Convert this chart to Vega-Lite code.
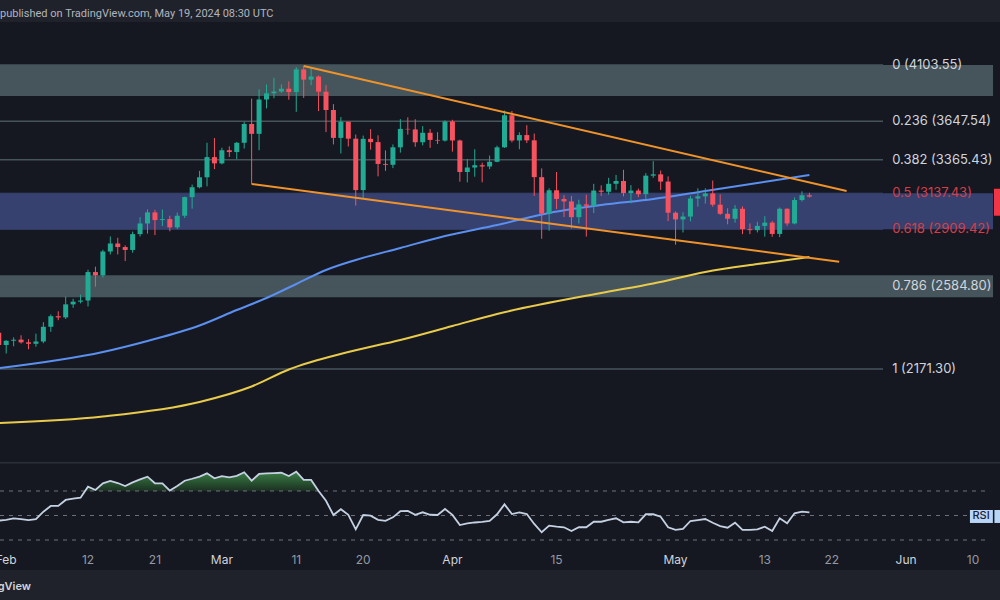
{
  "$schema": "https://vega.github.io/schema/vega-lite/v6.json",
  "padding": {"top": 8, "left": 0, "right": 0, "bottom": 0},
  "background": "#1f222b",
  "spacing": 0,
  "config": {"view": {"stroke": null}, "font": "Inter"},
  "title": {"text": "published on TradingView.com, May 19, 2024 08:30 UTC", "anchor": "start", "font": "Roboto", "fontSize": 11, "fontWeight": 400, "color": "#b2b5be", "offset": 3},
  "datasets": {
    "candles": [
      {"d":"2024-01-31","o":2343,"h":2393,"l":2267,"c":2283,"rsi":45.8},
      {"d":"2024-02-01","o":2283,"h":2306,"l":2243,"c":2304,"rsi":46.5},
      {"d":"2024-02-02","o":2304,"h":2320,"l":2277,"c":2309,"rsi":47.7},
      {"d":"2024-02-03","o":2309,"h":2330,"l":2290,"c":2296,"rsi":47.0},
      {"d":"2024-02-04","o":2296,"h":2311,"l":2263,"c":2289,"rsi":46.3},
      {"d":"2024-02-05","o":2289,"h":2338,"l":2275,"c":2300,"rsi":47.0},
      {"d":"2024-02-06","o":2300,"h":2395,"l":2292,"c":2372,"rsi":53.1},
      {"d":"2024-02-07","o":2372,"h":2434,"l":2347,"c":2425,"rsi":57.8},
      {"d":"2024-02-08","o":2425,"h":2450,"l":2405,"c":2419,"rsi":57.8},
      {"d":"2024-02-09","o":2419,"h":2527,"l":2411,"c":2486,"rsi":62.7},
      {"d":"2024-02-10","o":2486,"h":2515,"l":2468,"c":2500,"rsi":63.8},
      {"d":"2024-02-11","o":2500,"h":2537,"l":2491,"c":2506,"rsi":64.5},
      {"d":"2024-02-12","o":2506,"h":2673,"l":2475,"c":2660,"rsi":73.5},
      {"d":"2024-02-13","o":2660,"h":2690,"l":2580,"c":2642,"rsi":70.8},
      {"d":"2024-02-14","o":2642,"h":2787,"l":2630,"c":2777,"rsi":76.3},
      {"d":"2024-02-15","o":2777,"h":2866,"l":2760,"c":2824,"rsi":78.2},
      {"d":"2024-02-16","o":2824,"h":2858,"l":2760,"c":2803,"rsi":76.5},
      {"d":"2024-02-17","o":2803,"h":2813,"l":2722,"c":2786,"rsi":74.1},
      {"d":"2024-02-18","o":2786,"h":2895,"l":2770,"c":2880,"rsi":77.0},
      {"d":"2024-02-19","o":2880,"h":2984,"l":2866,"c":2945,"rsi":79.5},
      {"d":"2024-02-20","o":2945,"h":3033,"l":2883,"c":3014,"rsi":81.7},
      {"d":"2024-02-21","o":3014,"h":3030,"l":2874,"c":2966,"rsi":76.3},
      {"d":"2024-02-22","o":2966,"h":3032,"l":2929,"c":2972,"rsi":76.3},
      {"d":"2024-02-23","o":2972,"h":2993,"l":2897,"c":2921,"rsi":70.3},
      {"d":"2024-02-24","o":2921,"h":3013,"l":2910,"c":2993,"rsi":74.0},
      {"d":"2024-02-25","o":2993,"h":3115,"l":2979,"c":3112,"rsi":78.4},
      {"d":"2024-02-26","o":3112,"h":3195,"l":3038,"c":3177,"rsi":80.0},
      {"d":"2024-02-27","o":3177,"h":3288,"l":3170,"c":3244,"rsi":81.8},
      {"d":"2024-02-28","o":3244,"h":3487,"l":3183,"c":3384,"rsi":84.4},
      {"d":"2024-02-29","o":3384,"h":3522,"l":3300,"c":3340,"rsi":80.4},
      {"d":"2024-03-01","o":3340,"h":3451,"l":3333,"c":3433,"rsi":82.2},
      {"d":"2024-03-02","o":3433,"h":3461,"l":3385,"c":3420,"rsi":81.2},
      {"d":"2024-03-03","o":3420,"h":3493,"l":3369,"c":3487,"rsi":82.4},
      {"d":"2024-03-04","o":3487,"h":3644,"l":3445,"c":3627,"rsi":85.3},
      {"d":"2024-03-05","o":3627,"h":3825,"l":3200,"c":3553,"rsi":78.4},
      {"d":"2024-03-06","o":3553,"h":3900,"l":3433,"c":3818,"rsi":83.9},
      {"d":"2024-03-07","o":3818,"h":3940,"l":3747,"c":3868,"rsi":84.4},
      {"d":"2024-03-08","o":3868,"h":3995,"l":3828,"c":3882,"rsi":84.6},
      {"d":"2024-03-09","o":3882,"h":3941,"l":3872,"c":3905,"rsi":84.9},
      {"d":"2024-03-10","o":3905,"h":3965,"l":3816,"c":3878,"rsi":82.2},
      {"d":"2024-03-11","o":3878,"h":4086,"l":3721,"c":4066,"rsi":85.8},
      {"d":"2024-03-12","o":4066,"h":4093,"l":3831,"c":3980,"rsi":79.0},
      {"d":"2024-03-13","o":3980,"h":4083,"l":3934,"c":4006,"rsi":79.0},
      {"d":"2024-03-14","o":4006,"h":4015,"l":3726,"c":3881,"rsi":70.0},
      {"d":"2024-03-15","o":3881,"h":3935,"l":3566,"c":3735,"rsi":62.0},
      {"d":"2024-03-16","o":3735,"h":3781,"l":3475,"c":3523,"rsi":50.4},
      {"d":"2024-03-17","o":3523,"h":3680,"l":3410,"c":3644,"rsi":55.1},
      {"d":"2024-03-18","o":3644,"h":3645,"l":3460,"c":3517,"rsi":50.5},
      {"d":"2024-03-19","o":3517,"h":3548,"l":3057,"c":3158,"rsi":38.7},
      {"d":"2024-03-20","o":3158,"h":3540,"l":3100,"c":3516,"rsi":50.4},
      {"d":"2024-03-21","o":3516,"h":3588,"l":3437,"c":3492,"rsi":49.9},
      {"d":"2024-03-22","o":3492,"h":3542,"l":3250,"c":3336,"rsi":46.5},
      {"d":"2024-03-23","o":3336,"h":3432,"l":3288,"c":3330,"rsi":45.6},
      {"d":"2024-03-24","o":3330,"h":3475,"l":3307,"c":3454,"rsi":48.5},
      {"d":"2024-03-25","o":3454,"h":3664,"l":3416,"c":3590,"rsi":53.5},
      {"d":"2024-03-26","o":3590,"h":3678,"l":3547,"c":3586,"rsi":53.7},
      {"d":"2024-03-27","o":3586,"h":3663,"l":3458,"c":3491,"rsi":50.5},
      {"d":"2024-03-28","o":3491,"h":3611,"l":3468,"c":3561,"rsi":52.6},
      {"d":"2024-03-29","o":3561,"h":3589,"l":3450,"c":3508,"rsi":50.6},
      {"d":"2024-03-30","o":3508,"h":3565,"l":3478,"c":3503,"rsi":50.4},
      {"d":"2024-03-31","o":3503,"h":3655,"l":3496,"c":3646,"rsi":55.3},
      {"d":"2024-04-01","o":3646,"h":3659,"l":3423,"c":3504,"rsi":50.5},
      {"d":"2024-04-02","o":3504,"h":3510,"l":3214,"c":3280,"rsi":42.2},
      {"d":"2024-04-03","o":3280,"h":3370,"l":3210,"c":3311,"rsi":43.5},
      {"d":"2024-04-04","o":3311,"h":3440,"l":3248,"c":3327,"rsi":44.3},
      {"d":"2024-04-05","o":3327,"h":3345,"l":3210,"c":3318,"rsi":44.8},
      {"d":"2024-04-06","o":3318,"h":3395,"l":3300,"c":3351,"rsi":45.5},
      {"d":"2024-04-07","o":3351,"h":3466,"l":3348,"c":3454,"rsi":51.0},
      {"d":"2024-04-08","o":3454,"h":3730,"l":3450,"c":3694,"rsi":59.1},
      {"d":"2024-04-09","o":3694,"h":3727,"l":3490,"c":3504,"rsi":51.2},
      {"d":"2024-04-10","o":3504,"h":3565,"l":3440,"c":3544,"rsi":52.6},
      {"d":"2024-04-11","o":3544,"h":3618,"l":3485,"c":3505,"rsi":51.2},
      {"d":"2024-04-12","o":3505,"h":3555,"l":3120,"c":3245,"rsi":43.1},
      {"d":"2024-04-13","o":3245,"h":3305,"l":2852,"c":3006,"rsi":36.3},
      {"d":"2024-04-14","o":3006,"h":3170,"l":2900,"c":3157,"rsi":41.7},
      {"d":"2024-04-15","o":3157,"h":3280,"l":3035,"c":3100,"rsi":40.9},
      {"d":"2024-04-16","o":3100,"h":3125,"l":2985,"c":3084,"rsi":40.4},
      {"d":"2024-04-17","o":3084,"h":3120,"l":2915,"c":2984,"rsi":37.3},
      {"d":"2024-04-18","o":2984,"h":3095,"l":2945,"c":3065,"rsi":40.4},
      {"d":"2024-04-19","o":3065,"h":3128,"l":2865,"c":3056,"rsi":40.4},
      {"d":"2024-04-20","o":3056,"h":3200,"l":3010,"c":3155,"rsi":44.9},
      {"d":"2024-04-21","o":3155,"h":3190,"l":3120,"c":3147,"rsi":44.9},
      {"d":"2024-04-22","o":3147,"h":3240,"l":3128,"c":3200,"rsi":46.5},
      {"d":"2024-04-23","o":3200,"h":3260,"l":3160,"c":3219,"rsi":47.7},
      {"d":"2024-04-24","o":3219,"h":3295,"l":3117,"c":3138,"rsi":44.4},
      {"d":"2024-04-25","o":3138,"h":3191,"l":3072,"c":3155,"rsi":44.9},
      {"d":"2024-04-26","o":3155,"h":3168,"l":3112,"c":3131,"rsi":44.4},
      {"d":"2024-04-27","o":3131,"h":3272,"l":3100,"c":3255,"rsi":51.0},
      {"d":"2024-04-28","o":3255,"h":3355,"l":3240,"c":3264,"rsi":51.0},
      {"d":"2024-04-29","o":3264,"h":3290,"l":3160,"c":3215,"rsi":49.0},
      {"d":"2024-04-30","o":3215,"h":3250,"l":2960,"c":3012,"rsi":40.4},
      {"d":"2024-05-01","o":3012,"h":3020,"l":2817,"c":2970,"rsi":38.2},
      {"d":"2024-05-02","o":2970,"h":3015,"l":2890,"c":2988,"rsi":39.0},
      {"d":"2024-05-03","o":2988,"h":3120,"l":2958,"c":3103,"rsi":45.5},
      {"d":"2024-05-04","o":3103,"h":3170,"l":3050,"c":3117,"rsi":46.3},
      {"d":"2024-05-05","o":3117,"h":3170,"l":3070,"c":3136,"rsi":47.1},
      {"d":"2024-05-06","o":3136,"h":3222,"l":3050,"c":3063,"rsi":44.1},
      {"d":"2024-05-07","o":3063,"h":3130,"l":2998,"c":3005,"rsi":41.4},
      {"d":"2024-05-08","o":3005,"h":3040,"l":2940,"c":2974,"rsi":40.0},
      {"d":"2024-05-09","o":2974,"h":3060,"l":2950,"c":3037,"rsi":44.1},
      {"d":"2024-05-10","o":3037,"h":3052,"l":2880,"c":2910,"rsi":38.2},
      {"d":"2024-05-11","o":2910,"h":2945,"l":2880,"c":2904,"rsi":38.2},
      {"d":"2024-05-12","o":2904,"h":2955,"l":2890,"c":2930,"rsi":38.7},
      {"d":"2024-05-13","o":2930,"h":2990,"l":2865,"c":2950,"rsi":40.9},
      {"d":"2024-05-14","o":2950,"h":2960,"l":2864,"c":2881,"rsi":37.3},
      {"d":"2024-05-15","o":2881,"h":3045,"l":2862,"c":3037,"rsi":47.7},
      {"d":"2024-05-16","o":3037,"h":3040,"l":2930,"c":2945,"rsi":43.6},
      {"d":"2024-05-17","o":2945,"h":3110,"l":2940,"c":3093,"rsi":51.8},
      {"d":"2024-05-18","o":3093,"h":3150,"l":3083,"c":3124,"rsi":53.1},
      {"d":"2024-05-19","o":3124,"h":3140,"l":3110,"c":3115,"rsi":52.6}
    ],
    "ma100": [
      {"d":"2024-01-31","v":2174.9},{"d":"2024-02-14","v":2249.9},{"d":"2024-02-20","v":2302.4},
      {"d":"2024-02-27","v":2378.3},{"d":"2024-03-03","v":2456.8},{"d":"2024-03-07","v":2519.3},
      {"d":"2024-03-11","v":2594.3},{"d":"2024-03-15","v":2671.5},{"d":"2024-03-19","v":2728.0},
      {"d":"2024-03-25","v":2797.4},{"d":"2024-03-31","v":2868.6},{"d":"2024-04-07","v":2935.5},
      {"d":"2024-04-14","v":3010.2},{"d":"2024-04-21","v":3061.0},{"d":"2024-04-28","v":3099.7},
      {"d":"2024-05-05","v":3152.1},{"d":"2024-05-12","v":3205.3},{"d":"2024-05-19","v":3259.5}
    ],
    "ma200": [
      {"d":"2024-01-31","v":1939.1},{"d":"2024-02-14","v":1965.6},{"d":"2024-02-27","v":2026.3},
      {"d":"2024-03-05","v":2093.1},{"d":"2024-03-10","v":2168.9},{"d":"2024-03-18","v":2249.9},
      {"d":"2024-03-25","v":2307.2},{"d":"2024-04-01","v":2375.8},{"d":"2024-04-07","v":2436.3},
      {"d":"2024-04-21","v":2545.8},{"d":"2024-04-28","v":2597.0},{"d":"2024-05-05","v":2660.3},
      {"d":"2024-05-12","v":2705.2},{"d":"2024-05-19","v":2745.2}
    ],
    "fib": [
      {"p":4103.55,"label":"0 (4103.55)","grp":"w"},
      {"p":3647.54,"label":"0.236 (3647.54)","grp":"w"},
      {"p":3365.43,"label":"0.382 (3365.43)","grp":"w"},
      {"p":3137.43,"label":"0.5 (3137.43)","grp":"r"},
      {"p":2909.42,"label":"0.618 (2909.42)","grp":"r"},
      {"p":2584.80,"label":"0.786 (2584.80)","grp":"w"},
      {"p":2171.30,"label":"1 (2171.30)","grp":"w"}
    ],
    "zones": [
      {"zone":"top","hi":4103.55,"lo":3846},
      {"zone":"golden","hi":3137.43,"lo":2909.42},
      {"zone":"low","hi":2642,"lo":2523}
    ],
    "trend": [
      {"d1":"2024-03-12","p1":4095,"d2":"2024-05-24T00:00:00Z","p2":3152},
      {"d1":"2024-03-05","p1":3199,"d2":"2024-05-23T00:00:00Z","p2":2718}
    ],
    "rsiBands": [{"v":70},{"v":50},{"v":30}],
    "ticks": [
      {"d":"2024-02-01","t":"Feb"},{"d":"2024-02-12","t":"12"},{"d":"2024-02-21","t":"21"},
      {"d":"2024-03-01","t":"Mar"},{"d":"2024-03-11","t":"11"},{"d":"2024-03-20","t":"20"},
      {"d":"2024-04-01","t":"Apr"},{"d":"2024-04-15","t":"15"},{"d":"2024-05-01","t":"May"},
      {"d":"2024-05-13","t":"13"},{"d":"2024-05-22","t":"22"},{"d":"2024-06-01","t":"Jun"},
      {"d":"2024-06-10","t":"10"}
    ],
    "one": [{}]
  },
  "vconcat": [
    {
      "width": 1000,
      "height": 440,
      "view": {"fill": "#151821", "stroke": null},
      "layer": [
        {
          "data": {"name": "zones"},
          "mark": {"type": "rect", "clip": true},
          "encoding": {
            "x": {"datum": {"year":2024,"month":1,"date":31,"hours":4,"utc":true}, "type": "temporal", "scale": {"type":"utc","padding":0,"domain":[{"year":2024,"month":1,"date":31,"hours":4,"utc":true},{"year":2024,"month":6,"date":13,"hours":15,"utc":true}]}, "axis": null},
            "x2": {"datum": {"year":2024,"month":6,"date":12,"hours":16,"minutes":30,"utc":true}},
            "y": {"field": "hi", "type": "quantitative", "scale": {"type":"log","domain":[1787,4490.7],"nice":false,"zero":false}, "axis": null},
            "y2": {"field": "lo"},
            "color": {"field": "zone", "type": "nominal", "scale": {"domain": ["top","golden","low"], "range": ["#46555b","#37416f","#46555b"]}, "legend": null}
          }
        },
        {
          "data": {"name": "one"},
          "mark": {"type": "rect", "clip": true, "color": "#f23645"},
          "encoding": {
            "x": {"datum": {"year":2024,"month":6,"date":12,"hours":19,"minutes":40,"utc":true}, "type": "temporal"},
            "x2": {"datum": {"year":2024,"month":6,"date":13,"hours":15,"utc":true}},
            "y": {"datum": 3167, "type": "quantitative"},
            "y2": {"datum": 2993}
          }
        },
        {
          "data": {"name": "fib"},
          "mark": {"type": "rule", "clip": true},
          "encoding": {
            "x": {"datum": {"year":2024,"month":1,"date":31,"hours":4,"utc":true}, "type": "temporal"},
            "x2": {"datum": {"year":2024,"month":5,"date":28,"hours":21,"minutes":30,"utc":true}},
            "y": {"field": "p", "type": "quantitative"},
            "color": {"field": "grp", "type": "nominal", "scale": {"domain": ["w","r"], "range": ["#c9ccd3","#e8404c"]}, "legend": null},
            "strokeWidth": {"condition": {"test": "datum.grp == 'r'", "value": 1}, "value": 1.5}
          }
        },
        {
          "data": {"name": "fib"},
          "mark": {"type": "text", "clip": true, "align": "left", "baseline": "middle", "fontSize": 13, "font": "Inter"},
          "encoding": {
            "x": {"datum": {"year":2024,"month":5,"date":30,"hours":3,"utc":true}, "type": "temporal"},
            "y": {"field": "p", "type": "quantitative"},
            "text": {"field": "label"},
            "color": {"condition": {"test": "datum.grp == 'r'", "value": "#d63e4a"}, "value": "#d1d4dc"}
          }
        },
        {
          "data": {"name": "ma200"},
          "mark": {"type": "line", "clip": true, "color": "#e9cb4c", "strokeWidth": 2, "interpolate": "monotone"},
          "encoding": {
            "x": {"field": "d", "type": "temporal"},
            "y": {"field": "v", "type": "quantitative"}
          }
        },
        {
          "data": {"name": "ma100"},
          "mark": {"type": "line", "clip": true, "color": "#5b8ff0", "strokeWidth": 2, "interpolate": "monotone"},
          "encoding": {
            "x": {"field": "d", "type": "temporal"},
            "y": {"field": "v", "type": "quantitative"}
          }
        },
        {
          "data": {"name": "candles"},
          "mark": {"type": "rule", "clip": true, "strokeWidth": 1},
          "encoding": {
            "x": {"field": "d", "type": "temporal"},
            "y": {"field": "l", "type": "quantitative"},
            "y2": {"field": "h"},
            "color": {"condition": {"test": "datum.c >= datum.o", "value": "#22ab94"}, "value": "#f7525f"}
          }
        },
        {
          "data": {"name": "candles"},
          "mark": {"type": "bar", "clip": true, "size": 5, "orient": "vertical"},
          "encoding": {
            "x": {"field": "d", "type": "temporal"},
            "y": {"field": "o", "type": "quantitative"},
            "y2": {"field": "c"},
            "color": {"condition": {"test": "datum.c >= datum.o", "value": "#22ab94"}, "value": "#f7525f"}
          }
        },
        {
          "data": {"name": "trend"},
          "mark": {"type": "rule", "clip": true, "color": "#f0932b", "strokeWidth": 2},
          "encoding": {
            "x": {"field": "d1", "type": "temporal"},
            "x2": {"field": "d2"},
            "y": {"field": "p1", "type": "quantitative"},
            "y2": {"field": "p2"}
          }
        }
      ]
    },
    {
      "width": 1000,
      "height": 138,
      "view": {"fill": "#151821", "stroke": null},
      "layer": [
        {
          "data": {"name": "candles"},
          "mark": {"type": "area", "clip": true, "color": {"gradient": "linear", "x1": 0, "y1": 0, "x2": 0, "y2": 1, "stops": [{"offset": 0, "color": "#3b7f45"}, {"offset": 0.35, "color": "#17291e"}]}},
          "encoding": {
            "x": {"field": "d", "type": "temporal", "scale": {"type":"utc","padding":0,"domain":[{"year":2024,"month":1,"date":31,"hours":4,"utc":true},{"year":2024,"month":6,"date":13,"hours":15,"utc":true}]}, "axis": null},
            "y": {"field": "rsi", "type": "quantitative", "scale": {"domain": [-18.98, 93.67], "nice": false, "zero": false}, "axis": null},
            "y2": {"datum": 70}
          }
        },
        {
          "data": {"name": "one"},
          "mark": {"type": "rect", "clip": true, "color": "#151821"},
          "encoding": {
            "x": {"datum": {"year":2024,"month":1,"date":31,"hours":4,"utc":true}, "type": "temporal"},
            "x2": {"datum": {"year":2024,"month":6,"date":13,"hours":15,"utc":true}},
            "y": {"datum": 70, "type": "quantitative"},
            "y2": {"datum": 5.51}
          }
        },
        {
          "data": {"name": "one"},
          "mark": {"type": "rect", "clip": true, "color": "#1f222b"},
          "encoding": {
            "x": {"datum": {"year":2024,"month":1,"date":31,"hours":4,"utc":true}, "type": "temporal"},
            "x2": {"datum": {"year":2024,"month":6,"date":13,"hours":15,"utc":true}},
            "y": {"datum": 5.51, "type": "quantitative"},
            "y2": {"datum": -18.98}
          }
        },
        {
          "data": {"name": "one"},
          "mark": {"type": "rule", "clip": true, "color": "#2a2e39", "strokeWidth": 1.5},
          "encoding": {
            "x": {"datum": {"year":2024,"month":1,"date":31,"hours":4,"utc":true}, "type": "temporal"},
            "x2": {"datum": {"year":2024,"month":6,"date":13,"hours":15,"utc":true}},
            "y": {"datum": 93.1, "type": "quantitative"}
          }
        },
        {
          "data": {"name": "rsiBands"},
          "mark": {"type": "rule", "clip": true, "color": "#6f727d", "strokeWidth": 1, "strokeDash": [4, 5]},
          "encoding": {
            "x": {"datum": {"year":2024,"month":1,"date":31,"hours":4,"utc":true}, "type": "temporal"},
            "x2": {"datum": {"year":2024,"month":6,"date":12,"hours":7,"utc":true}},
            "y": {"field": "v", "type": "quantitative"}
          }
        },
        {
          "data": {"name": "candles"},
          "mark": {"type": "line", "clip": true, "color": "#c5d1e2", "strokeWidth": 1.8},
          "encoding": {
            "x": {"field": "d", "type": "temporal"},
            "y": {"field": "rsi", "type": "quantitative"}
          }
        },
        {
          "data": {"name": "one"},
          "mark": {"type": "rect", "clip": true, "color": "#b8d5f7"},
          "encoding": {
            "x": {"datum": {"year":2024,"month":6,"date":9,"hours":14,"utc":true}, "type": "temporal"},
            "x2": {"datum": {"year":2024,"month":6,"date":12,"hours":16,"utc":true}},
            "y": {"datum": 54.5, "type": "quantitative"},
            "y2": {"datum": 43.9}
          }
        },
        {
          "data": {"name": "one"},
          "mark": {"type": "rect", "clip": true, "color": "#b8d5f7"},
          "encoding": {
            "x": {"datum": {"year":2024,"month":6,"date":12,"hours":21,"utc":true}, "type": "temporal"},
            "x2": {"datum": {"year":2024,"month":6,"date":13,"hours":15,"utc":true}},
            "y": {"datum": 54.5, "type": "quantitative"},
            "y2": {"datum": 43.9}
          }
        },
        {
          "data": {"name": "one"},
          "mark": {"type": "text", "clip": true, "text": "RSI", "color": "#1c2233", "fontSize": 11, "fontWeight": 500, "font": "Inter", "align": "center", "baseline": "middle"},
          "encoding": {
            "x": {"datum": {"year":2024,"month":6,"date":11,"hours":2,"utc":true}, "type": "temporal"},
            "y": {"datum": 49.2, "type": "quantitative"}
          }
        },
        {
          "data": {"name": "ticks"},
          "mark": {"type": "text", "clip": true, "fontSize": 12, "font": "Inter", "align": "center", "baseline": "middle"},
          "encoding": {
            "x": {"field": "d", "type": "temporal"},
            "y": {"datum": 13.67, "type": "quantitative"},
            "text": {"field": "t"},
            "color": {"condition": {"test": "isNaN(toNumber(datum.t))", "value": "#d1d4dc"}, "value": "#9598a1"},
            "fontWeight": {"condition": {"test": "isNaN(toNumber(datum.t))", "value": 600}, "value": 400}
          }
        },
        {
          "data": {"name": "one"},
          "mark": {"type": "text", "clip": true, "text": "TradingView", "color": "#d1d4dc", "fontSize": 11, "fontWeight": 600, "font": "Inter", "align": "right", "baseline": "middle"},
          "encoding": {
            "x": {"datum": {"year":2024,"month":2,"date":4,"hours":8,"utc":true}, "type": "temporal"},
            "y": {"datum": -8.4, "type": "quantitative"}
          }
        }
      ]
    }
  ]
}
